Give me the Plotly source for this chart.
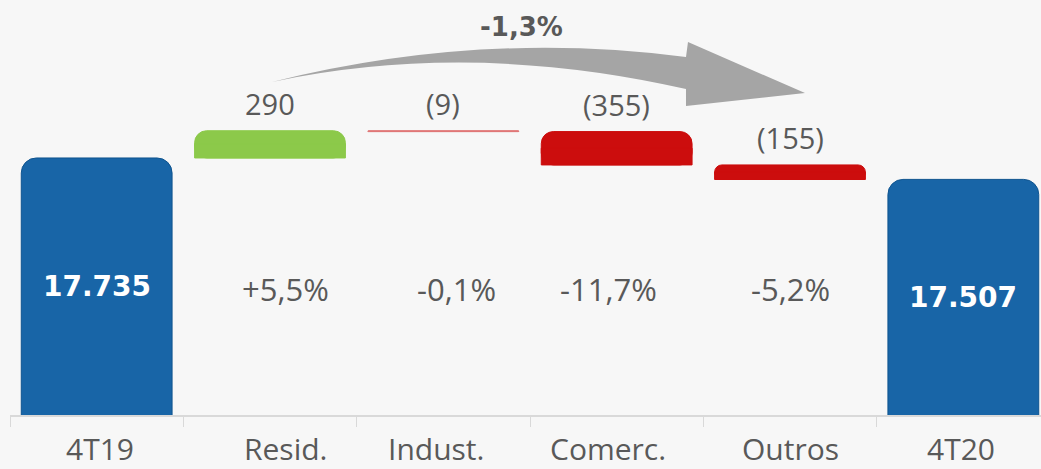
import plotly.graph_objects as go

# ---------------- data ----------------
categories = ["4T19", "Resid.", "Indust.", "Comerc.", "Outros", "4T20"]
start_total = 17735
end_total = 17507
deltas = [290, -9, -355, -155]
delta_labels = ["290", "(9)", "(355)", "(155)"]
pct_labels = ["+5,5%", "-0,1%", "-11,7%", "-5,2%"]
total_labels = ["17.735", "17.507"]
growth_label = "-1,3%"

# ---------------- style ----------------
AX_MIN, AX_MAX = 15000, 19416
W, H = 1041, 469
ML, MR, MT, MB = 10, 0, 0, 54
BLUE = "#1865a7"
GREEN = "#8cc94a"
RED = "#cc0d0d"
THIN_RED = "#e07878"
GRAY_TXT = "#595959"
pct_xshift = [15, 13, -8, 0]
cat_xshift = [3, 15, -7, -9, 0, -2]

# waterfall geometry computed from data
running = start_total
bases, heights, colors = [], [], []
for d in deltas:
    low = min(running, running + d)
    bases.append(low)
    heights.append(abs(d))
    if abs(d) < 20:
        colors.append(THIN_RED)
    elif d > 0:
        colors.append(GREEN)
    else:
        colors.append(RED)
    running += d
delta_cats = categories[1:5]
tops = [b + h for b, h in zip(bases, heights)]

fig = go.Figure()
fig.add_trace(go.Bar(
    x=[categories[0], categories[5]], y=[start_total, end_total],
    marker=dict(color=BLUE, cornerradius=15, line=dict(color="#0f548f", width=1)),
    showlegend=False, hoverinfo="skip"))
# rounded delta bars
fig.add_trace(go.Bar(
    x=delta_cats, y=heights, base=bases,
    marker=dict(color=colors, cornerradius=12, line=dict(color=colors, width=1)),
    showlegend=False, hoverinfo="skip"))
# square lower half so only the top corners look rounded
fig.add_trace(go.Bar(
    x=delta_cats, y=[h / 2 for h in heights], base=bases,
    marker=dict(color=colors, line=dict(color=colors, width=1)),
    showlegend=False, hoverinfo="skip"))

# total labels (centered within visible part of bar)
for cat, val, lab in zip([categories[0], categories[5]], [start_total, end_total], total_labels):
    fig.add_annotation(x=cat, y=(AX_MIN + val) / 2, xref="x", yref="y", text="<b>" + lab + "</b>",
                       showarrow=False, font=dict(family="DejaVu Sans", size=28, color="white"),
                       xanchor="center", yanchor="middle")

# delta value labels above the bars
for cat, top, lab in zip(delta_cats, tops, delta_labels):
    fig.add_annotation(x=cat, y=top, xref="x", yref="y", text=lab, showarrow=False,
                       font=dict(family="Open Sans", size=29, color=GRAY_TXT),
                       xanchor="center", yanchor="middle", yshift=27)


def px2paper(px, py):
    return (px - ML) / (W - ML - MR), (H - MB - py) / (H - MT - MB)


# percentage labels
for cat, lab, xs in zip(delta_cats, pct_labels, pct_xshift):
    fig.add_annotation(x=cat, y=px2paper(0, 289)[1], xref="x", yref="paper", text=lab,
                       showarrow=False, font=dict(family="Open Sans", size=31, color=GRAY_TXT),
                       xanchor="center", yanchor="middle", xshift=xs)

# category labels
for cat, xs in zip(categories, cat_xshift):
    fig.add_annotation(x=cat, y=px2paper(0, 448)[1], xref="x", yref="paper", text=cat,
                       showarrow=False, font=dict(family="Open Sans", size=30, color=GRAY_TXT),
                       xanchor="center", yanchor="middle", xshift=xs)

# overall growth label
gx, gy = px2paper(521, 27)
fig.add_annotation(x=gx, y=gy, xref="paper", yref="paper", text="<b>" + growth_label + "</b>",
                   showarrow=False, font=dict(family="DejaVu Sans", size=26, color=GRAY_TXT),
                   xanchor="center", yanchor="middle")


# curved arrow (decoration)
def P(px, py):
    x, y = px2paper(px, py)
    return f"{x:.5f},{y:.5f}"


path = ("M " + P(272, 82) + " Q " + P(480, 30) + " " + P(686, 57) +
        " L " + P(688, 42) + " L " + P(805, 93) + " L " + P(686, 106) +
        " L " + P(686, 89) + " Q " + P(470, 40) + " " + P(272, 82) + " Z")
fig.add_shape(type="path", path=path, xref="paper", yref="paper",
              fillcolor="#a5a5a5", line=dict(width=0), layer="above")

n = len(categories)
fig.update_layout(
    width=W, height=H,
    margin=dict(l=ML, r=MR, t=MT, b=MB),
    paper_bgcolor="#f7f7f7", plot_bgcolor="#f7f7f7",
    bargap=0.13, barmode="overlay",
    xaxis=dict(type="category", categoryorder="array", categoryarray=categories,
               range=[-0.5, n - 0.5 - 9 / 173.3],
               showline=True, linecolor="#d9d9d9", linewidth=2,
               ticks="outside", tickson="boundaries", ticklen=10, tickcolor="#d9d9d9",
               tickwidth=1, showgrid=False, zeroline=False, showticklabels=False),
    yaxis=dict(range=[AX_MIN, AX_MAX], visible=False, showgrid=False, zeroline=False),
)

fig.write_html("out.html", config={"displayModeBar": False},
               post_script="document.body.style.margin='0';document.body.style.background='#f7f7f7';")
